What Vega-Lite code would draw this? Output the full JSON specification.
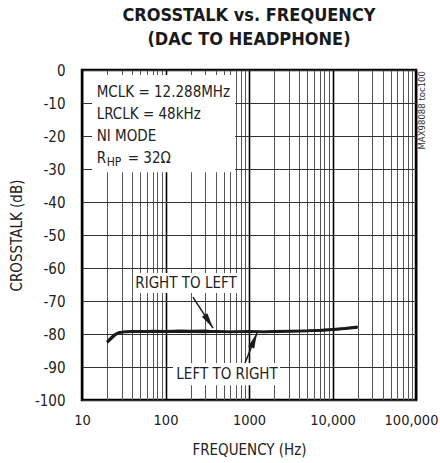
{
  "$schema": "https://vega.github.io/schema/vega-lite/v6.json",
  "width": 334,
  "height": 330,
  "autosize": "none",
  "padding": {"left": 82, "top": 70, "right": 24, "bottom": 63},
  "background": "white",
  "title": {
    "text": ["CROSSTALK vs. FREQUENCY", "(DAC TO HEADPHONE)"],
    "font": "DejaVu Sans Condensed, Liberation Sans, sans-serif",
    "fontSize": 18,
    "fontWeight": "bold",
    "color": "#1a1a1a",
    "anchor": "middle",
    "offset": 14,
    "lineHeight": 24
  },
  "config": {
    "view": {"stroke": "black", "strokeWidth": 2.5},
    "axis": {
      "labelFont": "DejaVu Sans Condensed, Liberation Sans, sans-serif",
      "titleFont": "DejaVu Sans Condensed, Liberation Sans, sans-serif",
      "labelFontSize": 15,
      "titleFontSize": 15,
      "labelColor": "#222",
      "titleColor": "#222",
      "titleFontWeight": "normal",
      "domain": false,
      "ticks": false
    }
  },
  "encoding": {
    "x": {
      "field": "f", "type": "quantitative",
      "scale": {"type": "log", "domain": [10, 100000], "nice": false},
      "axis": {
        "title": "FREQUENCY (Hz)",
        "values": [10,20,30,40,50,60,70,80,90,100,200,300,400,500,600,700,800,900,1000,2000,3000,4000,5000,6000,7000,8000,9000,10000,20000,30000,40000,50000,60000,70000,80000,90000,100000],
        "labelExpr": "indexof([10,100,1000,10000,100000], datum.value) >= 0 ? (datum.value >= 10000 ? format(datum.value, ',') : format(datum.value, 'd')) : ''",
        "labelOverlap": false,
        "labelFlush": false,
        "labelBound": false,
        "labelFontSize": 14.5,
        "labelOffset": {"condition": {"test": "datum.value >= 100000", "value": -5}, "value": 0},
        "labelPadding": 13,
        "titlePadding": 16,
        "grid": true,
        "gridColor": {"condition": {"test": "indexof([10,100,1000,10000,100000], datum.value) >= 0", "value": "#000"}, "value": "#555"},
        "gridWidth": {"condition": {"test": "indexof([10,100,1000,10000,100000], datum.value) >= 0", "value": 1.6}, "value": 1},
        "gridOpacity": 1
      }
    },
    "y": {
      "field": "d", "type": "quantitative",
      "scale": {"domain": [-100, 0], "nice": false},
      "axis": {
        "title": "CROSSTALK (dB)",
        "values": [-100,-90,-80,-70,-60,-50,-40,-30,-20,-10,0],
        "tickCount": 11,
        "labelExpr": "'' + datum.value",
        "labelOverlap": false,
        "labelPadding": 17,
        "titlePadding": 10,
        "grid": true,
        "gridColor": "#333",
        "gridWidth": 1,
        "gridOpacity": 1
      }
    }
  },
  "layer": [
    {
      "data": {"values": [
        {"f": 20, "d": -82.6, "series": "RIGHT TO LEFT"},
        {"f": 22, "d": -81.6, "series": "RIGHT TO LEFT"},
        {"f": 24, "d": -80.7, "series": "RIGHT TO LEFT"},
        {"f": 26, "d": -80.0, "series": "RIGHT TO LEFT"},
        {"f": 28, "d": -79.6, "series": "RIGHT TO LEFT"},
        {"f": 32, "d": -79.3, "series": "RIGHT TO LEFT"},
        {"f": 40, "d": -79.2, "series": "RIGHT TO LEFT"},
        {"f": 50, "d": -79.3, "series": "RIGHT TO LEFT"},
        {"f": 70, "d": -79.1, "series": "RIGHT TO LEFT"},
        {"f": 100, "d": -79.2, "series": "RIGHT TO LEFT"},
        {"f": 150, "d": -79.0, "series": "RIGHT TO LEFT"},
        {"f": 200, "d": -79.1, "series": "RIGHT TO LEFT"},
        {"f": 300, "d": -79.0, "series": "RIGHT TO LEFT"},
        {"f": 400, "d": -79.3, "series": "RIGHT TO LEFT"},
        {"f": 600, "d": -79.3, "series": "RIGHT TO LEFT"},
        {"f": 1000, "d": -79.3, "series": "RIGHT TO LEFT"},
        {"f": 1500, "d": -79.3, "series": "RIGHT TO LEFT"},
        {"f": 2000, "d": -79.2, "series": "RIGHT TO LEFT"},
        {"f": 3000, "d": -79.1, "series": "RIGHT TO LEFT"},
        {"f": 5000, "d": -79.0, "series": "RIGHT TO LEFT"},
        {"f": 7000, "d": -78.9, "series": "RIGHT TO LEFT"},
        {"f": 10000, "d": -78.6, "series": "RIGHT TO LEFT"},
        {"f": 14000, "d": -78.3, "series": "RIGHT TO LEFT"},
        {"f": 20000, "d": -77.8, "series": "RIGHT TO LEFT"},
        {"f": 20, "d": -82.3, "series": "LEFT TO RIGHT"},
        {"f": 22, "d": -81.3, "series": "LEFT TO RIGHT"},
        {"f": 24, "d": -80.4, "series": "LEFT TO RIGHT"},
        {"f": 26, "d": -79.8, "series": "LEFT TO RIGHT"},
        {"f": 28, "d": -79.5, "series": "LEFT TO RIGHT"},
        {"f": 32, "d": -79.4, "series": "LEFT TO RIGHT"},
        {"f": 40, "d": -79.3, "series": "LEFT TO RIGHT"},
        {"f": 50, "d": -79.2, "series": "LEFT TO RIGHT"},
        {"f": 70, "d": -79.3, "series": "LEFT TO RIGHT"},
        {"f": 100, "d": -79.3, "series": "LEFT TO RIGHT"},
        {"f": 150, "d": -79.2, "series": "LEFT TO RIGHT"},
        {"f": 200, "d": -79.3, "series": "LEFT TO RIGHT"},
        {"f": 300, "d": -79.4, "series": "LEFT TO RIGHT"},
        {"f": 400, "d": -79.2, "series": "LEFT TO RIGHT"},
        {"f": 600, "d": -79.4, "series": "LEFT TO RIGHT"},
        {"f": 1000, "d": -79.2, "series": "LEFT TO RIGHT"},
        {"f": 1500, "d": -79.4, "series": "LEFT TO RIGHT"},
        {"f": 2000, "d": -79.3, "series": "LEFT TO RIGHT"},
        {"f": 3000, "d": -79.2, "series": "LEFT TO RIGHT"},
        {"f": 5000, "d": -79.1, "series": "LEFT TO RIGHT"},
        {"f": 7000, "d": -78.9, "series": "LEFT TO RIGHT"},
        {"f": 10000, "d": -78.7, "series": "LEFT TO RIGHT"},
        {"f": 14000, "d": -78.4, "series": "LEFT TO RIGHT"},
        {"f": 20000, "d": -78.0, "series": "LEFT TO RIGHT"}
      ]},
      "mark": {"type": "line", "color": "#1a1a1a", "strokeWidth": 2.6},
      "encoding": {"detail": {"field": "series"}}
    },
    {
      "data": {"values": [
        {"f": 13.2, "f2": 680, "d": -1.5, "d2": -31},
        {"f": 40.8, "f2": 780, "d": -61.5, "d2": -67.6},
        {"f": 123, "f2": 2350, "d": -88.8, "d2": -95.5}
      ]},
      "mark": {"type": "rect", "color": "white"},
      "encoding": {"x2": {"field": "f2"}, "y2": {"field": "d2"}}
    },
    {
      "data": {"values": [
        {"f": 213, "d": -68.8, "f2": 371, "d2": -78.2},
        {"f": 896, "d": -88.8, "f2": 1247, "d2": -79.7}
      ]},
      "mark": {"type": "rule", "color": "#1a1a1a", "strokeWidth": 1.5},
      "encoding": {"x2": {"field": "f2"}, "y2": {"field": "d2"}}
    },
    {
      "data": {"values": [{"f": 371, "d": -78.2}]},
      "mark": {"type": "point", "shape": "M0,0L0.42,2L-0.42,2Z", "filled": true, "color": "#1a1a1a", "opacity": 1, "size": 240, "angle": 147}
    },
    {
      "data": {"values": [{"f": 1247, "d": -79.7}]},
      "mark": {"type": "point", "shape": "M0,0L0.42,2L-0.42,2Z", "filled": true, "color": "#1a1a1a", "opacity": 1, "size": 240, "angle": 22}
    },
    {
      "data": {"values": [
        {"f": 176, "d": -64.5, "label": "RIGHT TO LEFT"},
        {"f": 546, "d": -92.1, "label": "LEFT TO RIGHT"}
      ]},
      "mark": {"type": "text", "font": "DejaVu Sans Condensed, Liberation Sans, sans-serif", "fontSize": 15, "color": "#222", "align": "center", "baseline": "middle"},
      "encoding": {"text": {"field": "label"}}
    },
    {
      "data": {"values": [
        {"f": 15, "d": -6.7, "label": "MCLK = 12.288MHz"},
        {"f": 15, "d": -13.3, "label": "LRCLK = 48kHz"},
        {"f": 15, "d": -20, "label": "NI MODE"},
        {"f": 15, "d": -26.7, "label": "R"}
      ]},
      "mark": {"type": "text", "font": "DejaVu Sans Condensed, Liberation Sans, sans-serif", "fontSize": 15, "color": "#222", "align": "left", "baseline": "middle"},
      "encoding": {"text": {"field": "label"}}
    },
    {
      "data": {"values": [{"f": 15, "d": -26.7, "label": "HP"}]},
      "mark": {"type": "text", "font": "DejaVu Sans Condensed, Liberation Sans, sans-serif", "fontSize": 12, "color": "#222", "align": "left", "baseline": "middle", "dx": 10, "dy": 4},
      "encoding": {"text": {"field": "label"}}
    },
    {
      "data": {"values": [{"f": 15, "d": -26.7, "label": "= 32Ω"}]},
      "mark": {"type": "text", "font": "DejaVu Sans Condensed, Liberation Sans, sans-serif", "fontSize": 15, "color": "#222", "align": "left", "baseline": "middle", "dx": 31},
      "encoding": {"text": {"field": "label"}}
    },
    {
      "data": {"values": [{"f": 100000, "d": 0, "label": "MAX98088 toc100"}]},
      "mark": {"type": "text", "font": "DejaVu Sans Condensed, Liberation Sans, sans-serif", "fontSize": 9.5, "color": "#333", "align": "right", "baseline": "middle", "angle": 270, "dx": -1, "dy": 6},
      "encoding": {"text": {"field": "label"}}
    }
  ]
}
